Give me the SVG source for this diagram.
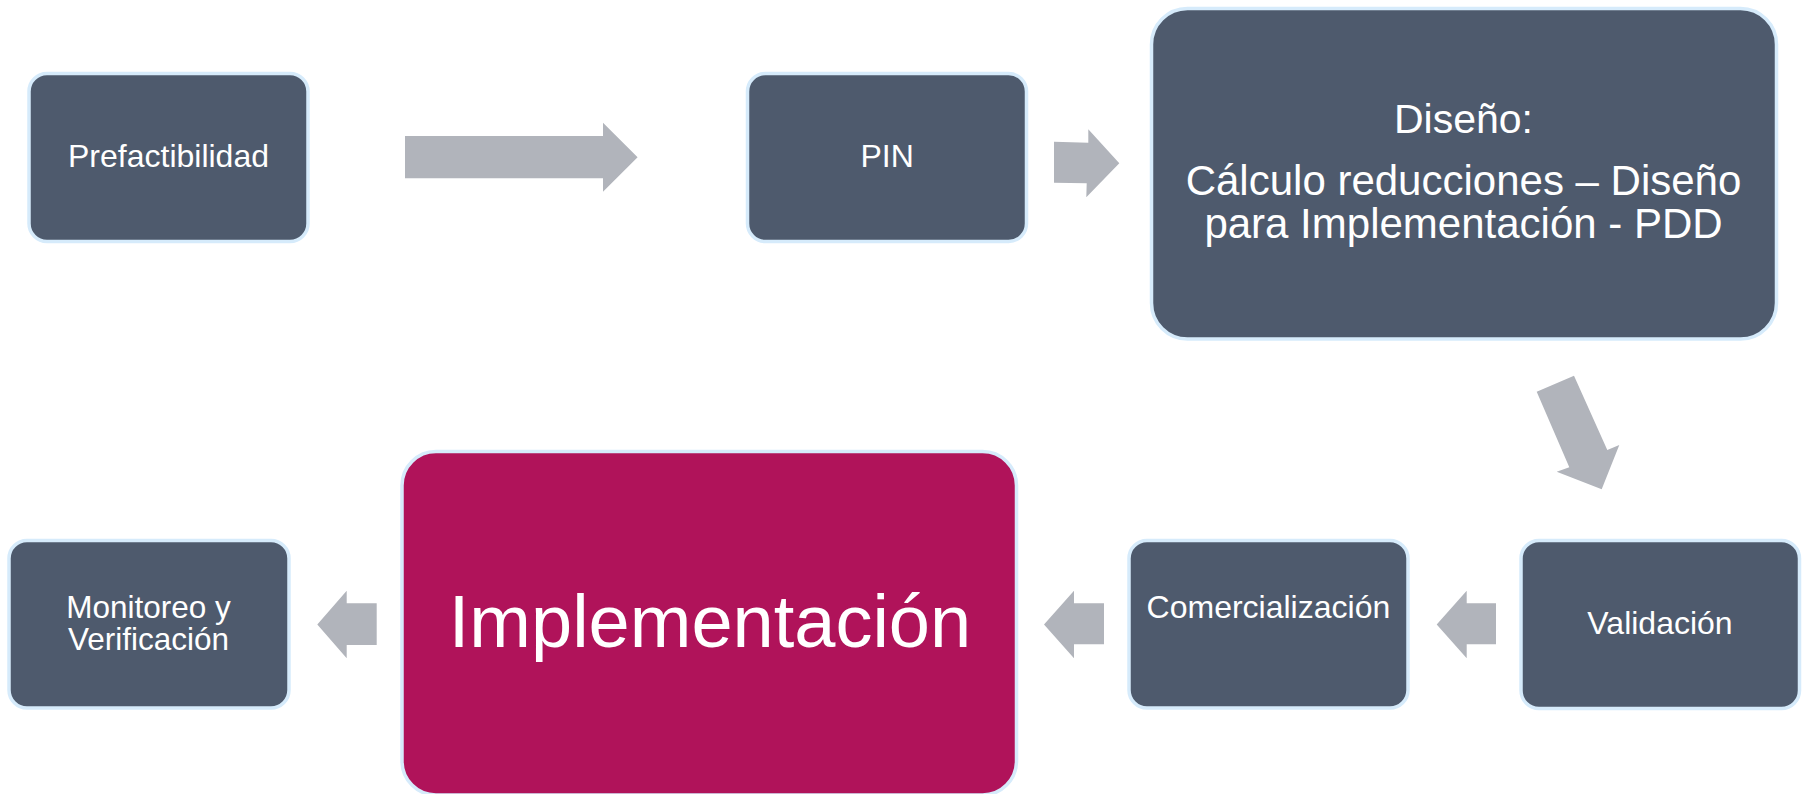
<svg xmlns="http://www.w3.org/2000/svg" width="1806" height="794" viewBox="0 0 1806 794">
<style>
.box{fill:#4E5A6D;stroke:#D6EBFB;stroke-width:3.5}
.hot{fill:#B0135A;stroke:#D6EBFB;stroke-width:3.5}
.t{font-family:"Liberation Sans",Arial,sans-serif;fill:#FFFFFF;text-anchor:middle}
.arr{fill:#B1B4BB}
</style>
<rect width="1806" height="794" fill="#FFFFFF"/>
<g id="connectors">
<polygon class="arr" points="405,136 603,136 603,122.7 637.6,157.3 603,191.7 603,178.3 405,178.3"/>
<polygon class="arr" points="1054,141.7 1088.3,142.7 1088.3,129.3 1119.3,163.3 1086.3,197.3 1086.7,183.3 1054,182.7"/>
<polygon class="arr" points="1536.7,391.7 1574,375.7 1607.3,450 1619.3,445 1601.7,489.3 1556.7,471.7 1569.3,467.3"/>
<polygon class="arr" points="1496,603.3 1466.7,603.3 1466.7,590.7 1436.7,624.5 1466.7,658.3 1466.7,644.3 1496,644.3"/>
<polygon class="arr" points="1104,603.3 1074,603.3 1074,590.7 1044,624.5 1074,658.3 1074,644.3 1104,644.3"/>
<polygon class="arr" points="376.7,603.3 346.7,603.3 346.7,590.7 317.3,624.5 346.7,658.3 346.7,645 376.7,645"/>
</g>
<g id="prefactibilidad">
<rect class="box" x="29" y="73.5" width="279" height="168" rx="18"/>
<text class="t" x="168.5" y="167.3" font-size="32">Prefactibilidad</text>
</g>
<g id="pin">
<rect class="box" x="747.5" y="73.5" width="279" height="168" rx="18"/>
<text class="t" x="887.2" y="166.7" font-size="32">PIN</text>
</g>
<g id="diseno">
<rect class="box" x="1151.5" y="8.5" width="625" height="330.5" rx="36"/>
<text class="t" x="1463.5" y="133.3" font-size="41">Diseño:</text>
<text class="t" x="1463.5" y="195" font-size="42">Cálculo reducciones – Diseño</text>
<text class="t" x="1463.5" y="238.3" font-size="42">para Implementación - PDD</text>
</g>
<g id="validacion">
<rect class="box" x="1521" y="540.5" width="278.5" height="168" rx="18"/>
<text class="t" x="1660" y="634" font-size="32">Validación</text>
</g>
<g id="comercializacion">
<rect class="box" x="1129" y="540.5" width="279" height="167.5" rx="18"/>
<text class="t" x="1268.4" y="618.3" font-size="32">Comercialización</text>
</g>
<g id="implementacion">
<rect class="hot" x="402" y="451.5" width="614.5" height="343.5" rx="34"/>
<text class="t" x="710" y="647.3" font-size="74">Implementación</text>
</g>
<g id="monitoreo">
<rect class="box" x="9" y="540.5" width="280" height="167.5" rx="18"/>
<text class="t" x="148.5" y="618.3" font-size="31.5">Monitoreo y</text>
<text class="t" x="148.5" y="650" font-size="31.5">Verificación</text>
</g>
</svg>
